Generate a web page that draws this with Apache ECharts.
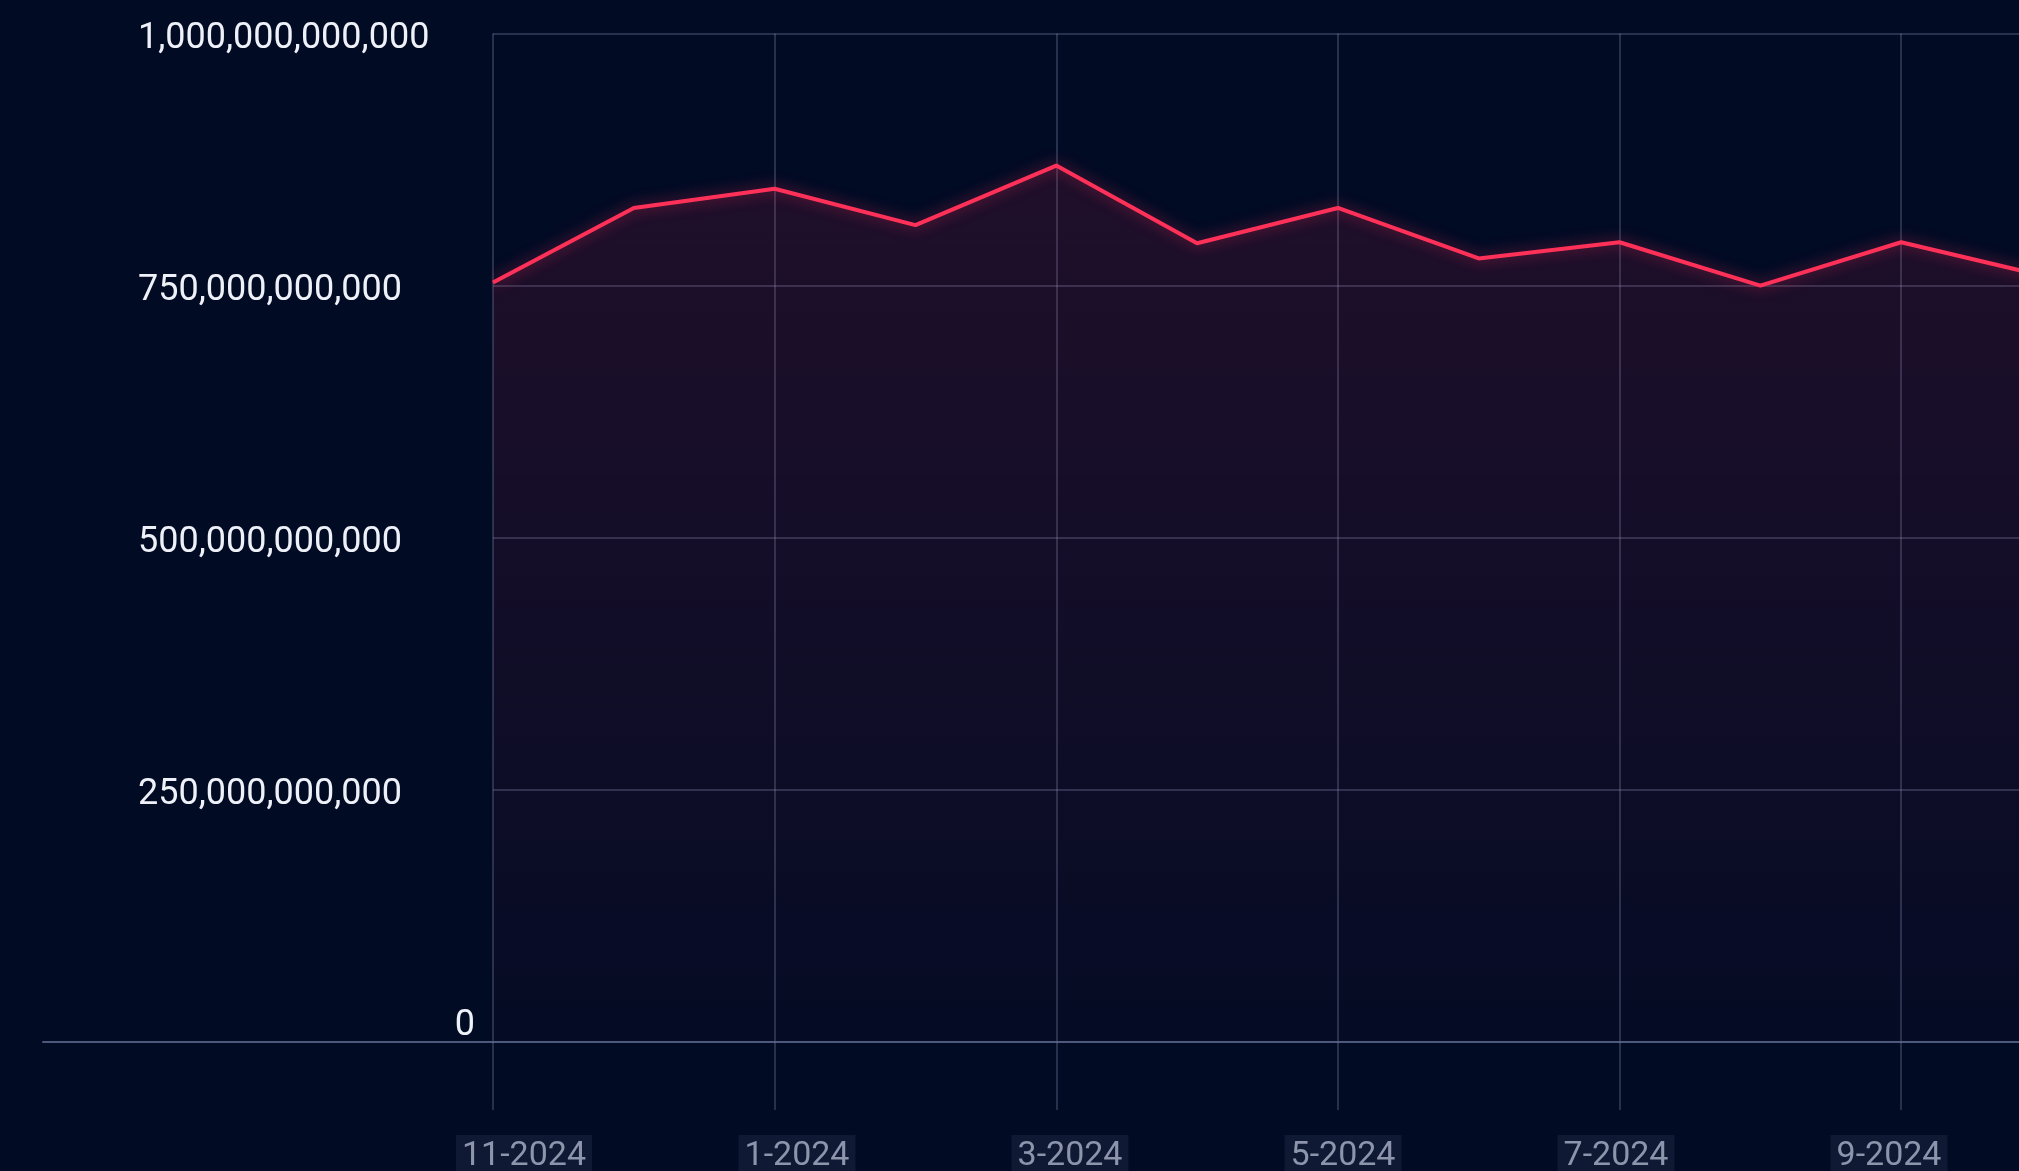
<!DOCTYPE html>
<html>
<head>
<meta charset="utf-8">
<script src="https://cdn.jsdelivr.net/npm/echarts@6/dist/echarts.min.js"></script>
<style>
html,body{margin:0;padding:0;background:#020b24;}
#chart{width:2019px;height:1171px;}
</style>
</head>
<body>
<div id="chart"></div>
<script>
const months = ['11-2024','12-2024','1-2024','2-2024','3-2024','4-2024','5-2024','6-2024','7-2024','8-2024','9-2024','10-2024'];
const values = [753e9, 827e9, 846e9, 810e9, 869e9, 792e9, 827e9, 777e9, 793e9, 750e9, 793e9, 760e9];
const xLabels = ['11-2024','1-2024','3-2024','5-2024','7-2024','9-2024'];
const yTicks = [0, 250e9, 500e9, 750e9, 1000e9];

const chart = echarts.init(document.getElementById('chart'));
const gridLine = 'rgba(135,148,185,0.38)';
const gbase = {top: 33.5, bottom: 129, outerBoundsMode: 'none', containLabel: false};
chart.setOption({
  backgroundColor: '#020b24',
  animation: false,
  grid: [
    Object.assign({left: 493, width: 1549}, gbase),
    Object.assign({left: 43, width: 1999}, gbase),
    Object.assign({left: 524, width: 1365}, gbase)
  ],
  xAxis: [{
    type: 'category',
    gridIndex: 0,
    data: months,
    boundaryGap: false,
    axisLine: {show: true, lineStyle: {color: '#4b5a7c', width: 2}},
    axisTick: {show: true, interval: 1, length: 68, lineStyle: {color: gridLine, width: 1.5}},
    splitLine: {show: true, interval: 1, lineStyle: {color: gridLine, width: 1.5}},
    axisLabel: {show: false}
  }, {
    type: 'value',
    gridIndex: 1,
    axisLine: {show: true, onZero: false, lineStyle: {color: '#4b5a7c', width: 2}},
    axisTick: {show: false},
    axisLabel: {show: false},
    splitLine: {show: false}
  }, {
    type: 'category',
    gridIndex: 2,
    data: xLabels,
    boundaryGap: false,
    axisLine: {show: false},
    axisTick: {show: false},
    splitLine: {show: false},
    axisLabel: {
      interval: 0,
      margin: 93,
      color: '#8c95ab',
      fontFamily: 'Roboto',
      fontSize: 34,
      backgroundColor: 'rgba(120,135,175,0.12)',
      padding: [4, 6, 2, 6]
    }
  }],
  yAxis: [{
    type: 'value',
    gridIndex: 0,
    min: 0,
    max: 1000e9,
    interval: 250e9,
    axisLine: {show: false},
    axisTick: {show: false},
    splitLine: {show: true, lineStyle: {color: gridLine, width: 1.5}},
    axisLabel: {
      align: 'left',
      margin: 355,
      formatter: v => {
        if (v === 0) return '{z|0}';
        return '{n|' + v.toLocaleString('en-US') + '}';
      },
      rich: {
        z: {width: 337, align: 'right', color: '#eef1f8', fontFamily: 'Roboto', fontSize: 36, padding: [0, 0, 32, 0]},
        n: {color: '#eef1f8', fontFamily: 'Roboto', fontSize: 36, padding: [10, 0, 0, 0]}
      }
    }
  }, {
    type: 'value',
    gridIndex: 1,
    show: false
  }, {
    type: 'value',
    gridIndex: 2,
    show: false
  }],
  series: [{
    type: 'line',
    xAxisIndex: 0,
    yAxisIndex: 0,
    data: values,
    showSymbol: false,
    lineStyle: {color: '#ff3158', width: 4, shadowColor: 'rgba(255,45,90,0.55)', shadowBlur: 14},
    areaStyle: {
      color: new echarts.graphic.LinearGradient(0, 0, 0, 1, [
        {offset: 0, color: 'rgba(255,45,90,0.17)'},
        {offset: 1, color: 'rgba(255,45,90,0.02)'}
      ])
    }
  }]
});
</script>
</body>
</html>
